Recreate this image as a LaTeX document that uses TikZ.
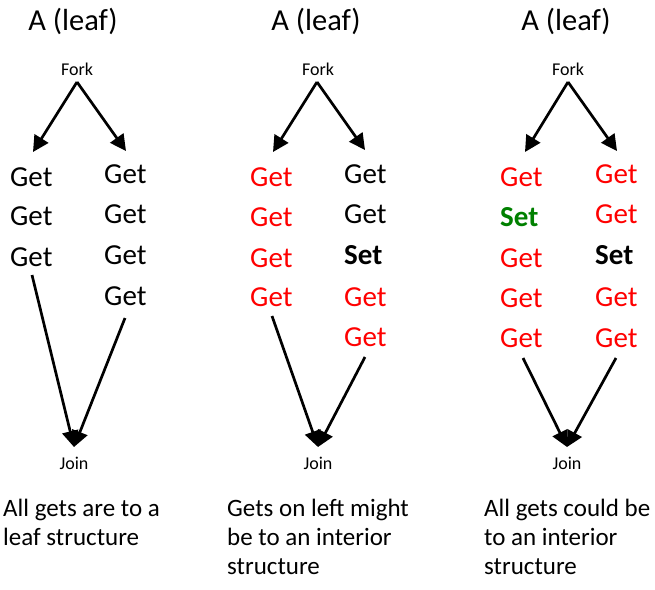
\documentclass[tikz,border=0pt]{standalone}
\usepackage{fontspec}
\setmainfont{Carlito}
\usetikzlibrary{arrows.meta}
\definecolor{getred}{RGB}{255,0,0}
\definecolor{setgreen}{RGB}{0,128,0}
\begin{document}
\begin{tikzpicture}[x=1pt,y=-1pt,
  titletxt/.style={font=\fontsize{30.5}{36}\selectfont, anchor=base, inner sep=0},
  smalltxt/.style={font=\fontsize{18}{21}\selectfont, anchor=base, inner sep=0},
  optxt/.style={font=\fontsize{29}{34}\selectfont, anchor=base west, inner sep=0},
  settxt/.style={font=\fontsize{29}{34}\selectfont\bfseries, anchor=base west, inner sep=0},
  captxt/.style={font=\fontsize{25}{29}\selectfont, anchor=base west, inner sep=0},
  arr/.style={line width=2.7pt, -{Triangle[length=16pt,width=16pt]}},
]
\useasboundingbox (0,0) rectangle (655,589);

% ---------- Panel 1 ----------
\node[titletxt] (t1) at (73,30) {A (leaf)};
\node[smalltxt] (f1) at (77,75) {Fork};
\coordinate (f1a) at (77,82);
\coordinate (f1l) at (33,152);
\coordinate (f1r) at (126,151);
\draw[arr] (f1a) -- (f1l);
\draw[arr] (f1a) -- (f1r);
\node[optxt] (p1l1) at (10,186) {Get};
\node[optxt] (p1l2) at (10,225) {Get};
\node[optxt] (p1l3) at (10,266) {Get};
\node[optxt] (p1r1) at (104,183) {Get};
\node[optxt] (p1r2) at (104,223) {Get};
\node[optxt] (p1r3) at (104,264) {Get};
\node[optxt] (p1r4) at (104,305) {Get};
\coordinate (j1l) at (32,275);
\coordinate (j1r) at (125,318);
\coordinate (j1t) at (74,447);
\draw[arr] (j1l) -- (j1t);
\draw[arr] (j1r) -- (j1t);
\node[smalltxt] (jn1) at (74,469) {Join};
\node[captxt] (c1a) at (3,516) {All gets are to a};
\node[captxt] (c1b) at (3,545) {leaf structure};

% ---------- Panel 2 ----------
\node[titletxt] (t2) at (316,30) {A (leaf)};
\node[smalltxt] (f2) at (318,75) {Fork};
\coordinate (f2a) at (317,82);
\coordinate (f2l) at (273,152);
\coordinate (f2r) at (365,150);
\draw[arr] (f2a) -- (f2l);
\draw[arr] (f2a) -- (f2r);
\node[optxt, text=getred] (p2l1) at (250,186) {Get};
\node[optxt, text=getred] (p2l2) at (250,226) {Get};
\node[optxt, text=getred] (p2l3) at (250,267) {Get};
\node[optxt, text=getred] (p2l4) at (250,306) {Get};
\node[optxt] (p2r1) at (344,183) {Get};
\node[optxt] (p2r2) at (344,223) {Get};
\node[settxt] (p2r3) at (344,264) {Set};
\node[optxt, text=getred] (p2r4) at (344,306) {Get};
\node[optxt, text=getred] (p2r5) at (344,346) {Get};
\coordinate (j2l) at (272,316);
\coordinate (j2r) at (365,357);
\coordinate (j2t) at (318,447);
\draw[arr] (j2l) -- (j2t);
\draw[arr] (j2r) -- (j2t);
\node[smalltxt] (jn2) at (318,469) {Join};
\node[captxt] (c2a) at (227,516) {Gets on left might};
\node[captxt] (c2b) at (227,545) {be to an interior};
\node[captxt] (c2c) at (227,574) {structure};

% ---------- Panel 3 ----------
\node[titletxt] (t3) at (566,30) {A (leaf)};
\node[smalltxt] (f3) at (568,75) {Fork};
\coordinate (f3a) at (568,82);
\coordinate (f3l) at (525,152);
\coordinate (f3r) at (617,151);
\draw[arr] (f3a) -- (f3l);
\draw[arr] (f3a) -- (f3r);
\node[optxt, text=getred] (p3l1) at (500,186) {Get};
\node[settxt, text=setgreen] (p3l2) at (500,226) {Set};
\node[optxt, text=getred] (p3l3) at (500,267) {Get};
\node[optxt, text=getred] (p3l4) at (500,307) {Get};
\node[optxt, text=getred] (p3l5) at (500,347) {Get};
\node[optxt, text=getred] (p3r1) at (595,183) {Get};
\node[optxt, text=getred] (p3r2) at (595,223) {Get};
\node[settxt] (p3r3) at (595,264) {Set};
\node[optxt, text=getred] (p3r4) at (595,306) {Get};
\node[optxt, text=getred] (p3r5) at (595,347) {Get};
\coordinate (j3l) at (523,358);
\coordinate (j3r) at (616,358);
\coordinate (j3t) at (567,447);
\draw[arr] (j3l) -- (j3t);
\draw[arr] (j3r) -- (j3t);
\node[smalltxt] (jn3) at (567,469) {Join};
\node[captxt] (c3a) at (484,516) {All gets could be};
\node[captxt] (c3b) at (484,545) {to an interior};
\node[captxt] (c3c) at (484,574) {structure};
\end{tikzpicture}
\end{document}
